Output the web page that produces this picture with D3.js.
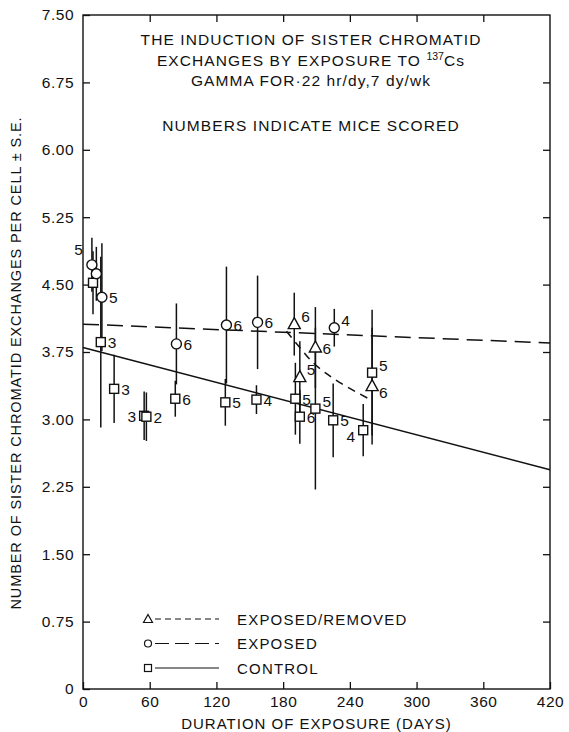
<!DOCTYPE html>
<html>
<head>
<meta charset="utf-8">
<script src="https://cdn.jsdelivr.net/npm/d3@7"></script>
<style>
  html, body { margin: 0; padding: 0; background: #fff; }
  svg { display: block; }
  text { font-family: "Liberation Sans", "Open Sans", sans-serif; fill: #111; }
</style>
</head>
<body>
<svg id="chart" width="569" height="732"></svg>
<script>
// SCE per cell vs. days of exposure: [day, mean, S.E., mice scored, label side]
const controlPts = [
  [9, 4.52, 0.35, "", "r"],
  [16, 3.86, 0.95, "3", "r"],
  [28, 3.34, 0.38, "3", "r"],
  [55, 3.04, 0.27, "3", "l"],
  [57, 3.03, 0.27, "2", "r"],
  [83, 3.23, 0.20, "6", "r"],
  [128, 3.19, 0.26, "5", "r"],
  [156, 3.22, 0.16, "4", "r"],
  [191, 3.23, 0.40, "5", "r"],
  [195, 3.03, 0.30, "6", "r"],
  [209, 3.12, 0.90, "5", "ur"],
  [225, 2.99, 0.41, "5", "r"],
  [252, 2.88, 0.29, "4", "ll"],
  [260, 3.52, 0.70, "5", "ur"]
];
const exposedPts = [
  [8, 4.72, 0.30, "5", "ul"],
  [12, 4.62, 0.30, "", "r"],
  [17, 4.36, 0.60, "5", "r"],
  [84, 3.84, 0.45, "6", "r"],
  [129, 4.05, 0.65, "6", "r"],
  [157, 4.08, 0.52, "6", "r"],
  [226, 4.02, 0.21, "4", "ur"]
];
const removedPts = [
  [190, 4.06, 0.35, "6", "ur"],
  [209, 3.80, 0.45, "6", "r"],
  [195, 3.47, 0.40, "5", "ur"],
  [260, 3.37, 0.65, "6", "lr"]
];

// Fitted regression lines and the recovery curve after removal
const controlFit = [[0, 3.80], [420, 2.44]];
const exposedFit = [[0, 4.06], [420, 3.85]];
const removedCurve = [[183, 3.98], [195, 3.80], [207, 3.63], [220, 3.50], [231, 3.41], [245, 3.31], [257, 3.23]];

const xTicks = [0, 60, 120, 180, 240, 300, 360, 420];
const yTicks = [0, 0.75, 1.5, 2.25, 3.0, 3.75, 4.5, 5.25, 6.0, 6.75, 7.5];

const titleLines = [
  ["THE INDUCTION OF SISTER CHROMATID"],
  ["EXCHANGES BY EXPOSURE TO ", "137", "Cs"],
  ["GAMMA FOR\u00b722 hr/dy,7 dy/wk"],
  ["NUMBERS INDICATE MICE SCORED"]
];
const legendItems = [
  ["triangle", "6,4", "EXPOSED/REMOVED"],
  ["circle", "14,6", "EXPOSED"],
  ["square", null, "CONTROL"]
];

const ink = "#111";
const svg = d3.select("#chart");
const L = 83, R = 550, T = 15, B = 689;
const x = d3.scaleLinear().domain([0, 420]).range([L, R]);
const y = d3.scaleLinear().domain([0, 7.5]).range([B, T]);

// frame
svg.append("rect").attr("x", L).attr("y", T).attr("width", R - L).attr("height", B - T)
  .attr("fill", "none").attr("stroke", ink).attr("stroke-width", 1.4);

const yFmt = d => d === 0 ? "0" : d3.format(".2f")(d);

function styleAxis(g) {
  g.select(".domain").remove();
  g.selectAll(".tick line").attr("stroke", ink).attr("stroke-width", 1.3);
  g.selectAll("text").attr("font-size", 15.5).attr("letter-spacing", 0.5).style("fill", ink);
}

svg.append("g").attr("transform", `translate(${L},0)`)
  .call(d3.axisLeft(y).tickValues(yTicks).tickFormat(yFmt).tickSize(-7).tickPadding(9))
  .call(styleAxis);
svg.append("g").attr("transform", `translate(${R},0)`)
  .call(d3.axisRight(y).tickValues(yTicks.slice(1, -1)).tickFormat("").tickSize(-7))
  .call(styleAxis);
svg.append("g").attr("transform", `translate(0,${B})`)
  .call(d3.axisBottom(x).tickValues(xTicks).tickSize(-7).tickPadding(7))
  .call(styleAxis);
svg.append("g").attr("transform", `translate(0,${T})`)
  .call(d3.axisTop(x).tickValues(xTicks.slice(1, -1)).tickFormat("").tickSize(-7))
  .call(styleAxis);

// axis titles
svg.append("text").attr("x", (L + R) / 2).attr("y", 729).attr("text-anchor", "middle")
  .attr("font-size", 15).attr("letter-spacing", 1).text("DURATION OF EXPOSURE (DAYS)");
svg.append("text").attr("transform", `translate(21,${363}) rotate(-90)`)
  .attr("text-anchor", "middle").attr("font-size", 14.5).attr("letter-spacing", 0.9)
  .text("NUMBER OF SISTER CHROMATID EXCHANGES PER CELL \u00b1 S.E.");

// title block
const titleY = [45, 66, 86, 131];
titleLines.forEach((parts, i) => {
  const t = svg.append("text").attr("x", 311).attr("y", titleY[i]).attr("text-anchor", "middle")
    .attr("font-size", 15.5).attr("letter-spacing", 1.1);
  if (parts.length === 1) t.text(parts[0]);
  else {
    t.append("tspan").text(parts[0]);
    t.append("tspan").attr("font-size", 10.5).attr("dy", -6).attr("letter-spacing", 0).text(parts[1]);
    t.append("tspan").attr("dy", 6).text(parts[2]);
  }
});

// fitted lines
const line = d3.line().x(d => x(d[0])).y(d => y(d[1]));
svg.append("path").datum(controlFit).attr("d", line).attr("fill", "none")
  .attr("stroke", ink).attr("stroke-width", 1.5);
svg.append("path").datum(exposedFit).attr("d", line).attr("fill", "none")
  .attr("stroke", ink).attr("stroke-width", 1.5).attr("stroke-dasharray", "16,8");
svg.append("path").datum(removedCurve).attr("d", line.curve(d3.curveCatmullRom)).attr("fill", "none")
  .attr("stroke", ink).attr("stroke-width", 1.5).attr("stroke-dasharray", "8,6");

// error bars
const allSeries = [
  ["square", controlPts], ["circle", exposedPts], ["triangle", removedPts]
];
allSeries.forEach(([shape, pts]) => {
  svg.append("g").selectAll("line").data(pts).join("line")
    .attr("x1", d => x(d[0])).attr("x2", d => x(d[0]))
    .attr("y1", d => y(d[1] + d[2])).attr("y2", d => y(d[1] - d[2]))
    .attr("stroke", ink).attr("stroke-width", 1.5);
});

// markers
function drawMarker(g, shape, cx, cy) {
  if (shape === "circle") {
    g.append("circle").attr("cx", cx).attr("cy", cy).attr("r", 5);
  } else if (shape === "square") {
    g.append("rect").attr("x", cx - 4.5).attr("y", cy - 4.5).attr("width", 9).attr("height", 9);
  } else {
    g.append("path").attr("d", `M${cx},${cy - 6.5}L${cx + 6},${cy + 4.5}L${cx - 6},${cy + 4.5}Z`);
  }
}
const leftSide = s => s === "l" || s === "ul" || s === "ll";
const dxFor = s => (s === "l" || s === "ll" ? -8 : s === "ul" ? -9 : 7);
const dyFor = s => (s === "ul" ? -10 : s === "ur" ? -2 : (s === "lr" || s === "ll") ? 12 : 6);
allSeries.forEach(([shape, pts]) => {
  const g = svg.append("g").attr("fill", "#fff").attr("stroke", ink).attr("stroke-width", 1.4);
  pts.forEach(d => drawMarker(g, shape, x(d[0]), y(d[1])));
  // mice-scored labels
  svg.append("g").selectAll("text").data(pts.filter(d => d[3])).join("text")
    .attr("font-size", 15.5)
    .attr("x", d => x(d[0]) + dxFor(d[4]))
    .attr("y", d => y(d[1]) + dyFor(d[4]))
    .attr("text-anchor", d => leftSide(d[4]) ? "end" : "start")
    .text(d => d[3]);
});

// legend
legendItems.forEach((it, i) => {
  const ly = 619 + i * 24.5;
  const g = svg.append("g").attr("fill", "#fff").attr("stroke", ink).attr("stroke-width", 1.2);
  const sx = 148;
  if (it[0] === "circle") g.append("circle").attr("cx", sx).attr("cy", ly).attr("r", 3.5);
  else if (it[0] === "square") g.append("rect").attr("x", sx - 3.5).attr("y", ly - 3.5).attr("width", 7).attr("height", 7);
  else g.append("path").attr("d", `M${sx},${ly - 4.5}L${sx + 4.5},${ly + 3.5}L${sx - 4.5},${ly + 3.5}Z`);
  svg.append("line").attr("x1", sx + 7).attr("x2", 219).attr("y1", ly).attr("y2", ly)
    .attr("stroke", ink).attr("stroke-width", 1.1)
    .attr("stroke-dasharray", it[1]);
  svg.append("text").attr("x", 237).attr("y", ly + 5.5).attr("font-size", 15)
    .attr("letter-spacing", 1.2).text(it[2]);
});
</script>
</body>
</html>
